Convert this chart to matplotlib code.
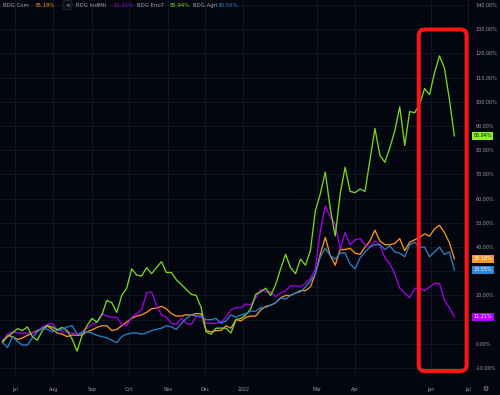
import numpy as np
import pandas as pd
import matplotlib
matplotlib.use("Agg")
import matplotlib.pyplot as plt
import matplotlib.dates as mdates
from matplotlib.patches import FancyBboxPatch
from matplotlib.transforms import IdentityTransform, blended_transform_factory

# ---------------- data (percent change since start) ----------------
dates = pd.date_range("2021-06-21", periods=92, freq="4D")

com = [0.5, 3.5, 3.0, 1.8, 2.5, 3.5, 4.5, 5.5, 6.5, 7.5,
       6.0, 4.5, 4.0, 3.0, 3.7, 3.5, 3.7, 5.0, 5.8, 6.8,
       7.5, 7.5, 5.5, 6.0, 7.5, 9.0, 10.5, 11.5, 12.0, 13.0,
       14.5, 14.8, 15.5, 14.5, 12.5, 11.5, 11.5, 12.0, 12.0, 12.5,
       12.5, 5.5, 5.0, 5.5, 5.5, 7.5, 6.5, 10.0, 9.5, 11.0,
       11.5, 11.5, 14.0, 15.5, 16.0, 17.0, 19.0, 20.0, 20.0, 21.0,
       22.0, 22.0, 23.5, 29.0, 37.0, 44.0, 36.5, 32.5, 39.0, 39.0,
       39.5, 37.5, 37.0, 40.0, 42.5, 47.0, 42.5, 41.0, 41.0, 41.5,
       43.5, 38.5, 42.0, 43.0, 44.0, 45.5, 44.5, 47.5, 49.0, 46.0,
       41.8, 35.18]

indmtl = [1.5, 4.0, 5.0, 4.5, 4.5, 4.5, 4.5, 5.0, 7.0, 8.0,
          8.5, 6.0, 5.0, 5.0, 4.5, 3.7, 5.0, 6.5, 8.0, 9.0,
          12.5, 11.5, 11.0, 11.0, 8.0, 7.5, 11.0, 12.5, 14.0, 21.0,
          21.5, 16.0, 12.0, 11.0, 8.5, 8.0, 10.5, 8.5, 8.0, 11.5,
          11.0, 8.5, 8.5, 8.5, 9.0, 11.0, 14.0, 15.0, 15.0, 16.5,
          16.0, 19.0, 22.5, 21.5, 21.5, 19.5, 21.0, 22.0, 24.0, 24.0,
          23.5, 25.0, 27.0, 31.0, 46.7, 57.0, 52.5, 49.5, 39.0, 46.0,
          41.0, 43.0, 43.5, 41.0, 40.0, 42.5, 41.0, 35.5, 33.0, 29.0,
          23.0, 21.0, 19.0, 23.0, 23.0, 22.0, 23.5, 25.0, 25.0, 18.0,
          15.0, 11.21]

enot = [1.0, 3.0, 4.5, 6.3, 5.5, 7.0, 3.0, 1.5, 5.5, 7.5,
        7.0, 5.8, 6.8, 5.5, 2.0, -3.0, 3.5, 7.5, 10.5, 9.0,
        12.0, 18.0, 17.0, 13.0, 20.0, 23.0, 31.0, 28.5, 28.0, 31.5,
        29.0, 31.5, 34.0, 29.5, 29.5, 26.5, 24.5, 22.5, 20.5, 20.0,
        15.0, 5.0, 4.0, 6.5, 6.5, 6.5, 4.5, 10.0, 10.5, 12.0,
        14.5, 20.5, 21.5, 23.0, 20.0, 24.5, 31.0, 37.0, 31.5, 29.0,
        35.0, 32.5, 38.5, 55.0, 62.0, 71.0, 56.0, 44.6, 62.0, 73.0,
        63.0, 62.5, 64.0, 63.0, 76.0, 89.0, 78.0, 75.0, 81.0, 88.0,
        98.0, 82.0, 96.0, 95.5, 99.0, 105.5, 103.0, 112.0, 119.0, 114.0,
        101.0, 85.94]

agri = [0.5, -1.5, 3.0, 1.0, -0.5, -0.5, 2.5, 5.0, 6.5, 6.0,
        5.0, 5.5, 6.0, 7.0, 7.5, 4.0, 4.5, 5.0, 4.5, 3.5,
        3.0, 2.5, 1.5, 0.5, 3.0, 4.0, 4.5, 4.5, 4.0, 4.5,
        5.5, 6.0, 6.5, 7.5, 7.0, 6.0, 8.5, 10.5, 12.0, 11.5,
        11.5, 10.0, 10.0, 10.5, 8.5, 9.5, 12.0, 11.0, 12.0, 12.5,
        13.5, 13.5, 15.0, 15.0, 16.0, 17.0, 19.0, 18.5, 20.0, 21.0,
        21.5, 23.5, 26.0, 29.0, 36.0, 39.5, 36.5, 35.0, 37.5, 37.5,
        33.0, 31.0, 35.5, 38.0, 40.0, 41.0, 41.0, 39.0, 40.5, 38.0,
        37.5, 36.0, 41.0, 42.0, 40.0, 40.0, 36.0, 38.0, 40.0, 37.0,
        38.0, 30.55]

names = ["BDG Com", "BDG IndMtl", "BDG EnoT", "BDG Agri"]
series = [com, indmtl, enot, agri]
line_colors = ["#f7931e", "#a300e6", "#78d61c", "#2b7fc4"]
badge_colors = ["#f39a2a", "#b000ff", "#8cf02a", "#2d86d6"]
badge_text = ["#ffffff", "#ffffff", "#0a1a00", "#ffffff"]

tick_dates = ["2021-07-01", "2021-08-01", "2021-09-01", "2021-10-01", "2021-11-01",
              "2021-12-01", "2022-01-01", "2022-03-01", "2022-04-01", "2022-06-01",
              "2022-07-01"]
tick_labels = ["Jul", "Aug", "Sep", "Oct", "Nov", "Dec", "2022", "Mar", "Apr", "Jun", "Jul"]
y_ticks = list(range(-10, 150, 10))

# highlight box (date span / value span)
box_start, box_end = "2022-05-22 07:00", "2022-06-29 20:00"
box_low, box_high = -11.2, 129.9

# ---------------- styling ----------------
BG = "#04060f"
GRID = "#141a28"
TXT = "#9a9ea8"
W, H = 500, 395

fig = plt.figure(figsize=(W / 100, H / 100), dpi=100, facecolor=BG)
ax = fig.add_axes([0, 17 / H, 469 / W, 378 / H], facecolor=BG)

for s, c in zip(series, line_colors):
    ax.plot(dates, s, color=c, lw=0.95, solid_joinstyle="round")

ax.set_xlim(pd.Timestamp("2021-06-18 22:00"), pd.Timestamp("2022-07-01 19:00"))
ax.set_ylim(-14.1, 142.1)

ax.set_xticks(pd.to_datetime(tick_dates))
ax.set_xticklabels(tick_labels)
ax.set_yticks(y_ticks)
# price-axis labels hidden where a last-value badge sits on top of them
last_vals = [s[-1] for s in series]
ylabels = ["" if min(abs(v - lv) for lv in last_vals) < 3.6 else f"{v:.2f}%" for v in y_ticks]
ax.set_yticklabels(ylabels)
ax.yaxis.tick_right()
ax.tick_params(axis="y", length=0, pad=5, labelsize=3.5, colors=TXT)
ax.tick_params(axis="x", length=0, pad=6.5, labelsize=3.4, colors=TXT)
ax.grid(True, color=GRID, lw=0.6)
ax.set_axisbelow(True)
for sp in ax.spines.values():
    sp.set_visible(False)

# last-value badges on the price axis
trans = blended_transform_factory(ax.transAxes, ax.transData)
for s, bc, tc in zip(series, badge_colors, badge_text):
    ax.text(1 + 4.5 / 469, s[-1], f"{s[-1]:.2f}%", transform=trans, ha="left",
            va="center", fontsize=3.5, color=tc, clip_on=False,
            bbox=dict(boxstyle="square,pad=0.3", fc=bc, ec="none"))

# red highlight rectangle
fig.canvas.draw()
(dx0, dy0) = ax.transData.transform((mdates.date2num(pd.Timestamp(box_start)), box_low))
(dx1, dy1) = ax.transData.transform((mdates.date2num(pd.Timestamp(box_end)), box_high))
rect = FancyBboxPatch((dx0, dy0), dx1 - dx0, dy1 - dy0,
                      boxstyle="round,pad=0,rounding_size=6",
                      transform=IdentityTransform(), fill=False,
                      ec="#ff1414", lw=2.9, zorder=10)
fig.add_artist(rect)

# legend at top-left
def px(x, y):
    return x / W, 1 - y / H

legend_pos = [(3, 35), (76, 113), (137, 170), (193, 218)]
for (nx, vx), n, s, c in zip(legend_pos, names, series, line_colors):
    fig.text(*px(nx, 5.5), n, fontsize=3.9, color=TXT, va="center", ha="left")
    fig.text(*px(vx, 5.5), f"{s[-1]:.2f}%", fontsize=3.9, color=c, va="center", ha="left")
fig.text(*px(67.5, 5.0), "<", fontsize=4.2, color="#c8cad0", va="center", ha="center",
         bbox=dict(boxstyle="round,pad=0.35,rounding_size=0.3", fc="#0b0e18", ec="#2a2e3a", lw=0.5))

# settings glyph at bottom right
fig.text(*px(485, 389), "\u2699", fontsize=5, color=TXT, va="center", ha="center")

fig.savefig("out.png", dpi=100, facecolor=BG)
